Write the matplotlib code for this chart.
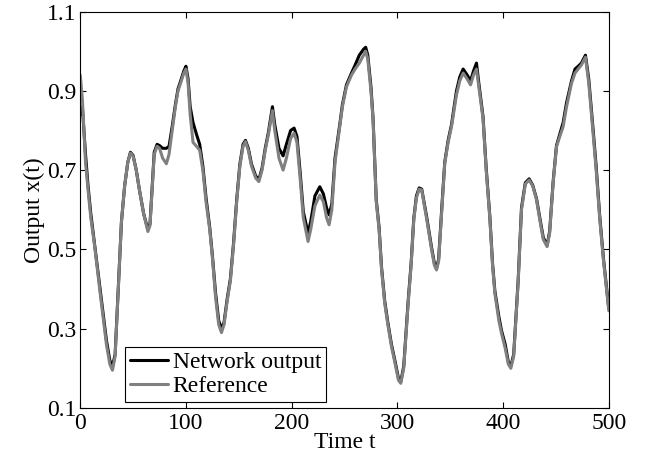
import matplotlib
matplotlib.use('Agg')
import matplotlib.pyplot as plt

# time samples
t = [0, 2, 5, 7.4, 10, 13.7, 18.4, 24.8, 28, 30.5,
     33, 36, 39, 42, 45, 47.5, 50, 53, 56, 60,
     64, 66, 68, 70, 72.7, 75, 78, 81.5, 84, 87,
     90, 92.5, 95, 98, 100, 102, 104, 106.7, 110, 113,
     116, 119, 122.5, 125, 128, 131, 133.6, 136, 139, 142,
     145, 148, 151, 154, 156.3, 159, 162, 166, 169, 172,
     175, 178, 181.8, 184, 188, 191.9, 195, 199, 202.3, 205,
     208, 211, 215.5, 218, 222, 226.6, 230, 233, 235.4, 238,
     241, 245.5, 248, 251.8, 256.6, 260, 264, 268, 270, 272,
     275, 277, 280, 282.7, 285, 288, 291, 294.4, 298, 301,
     303.2, 306, 308, 310.2, 313, 315.5, 318, 320.6, 323, 327.5,
     332.3, 335, 337, 339, 342, 344.8, 348, 351.2, 355.9, 359,
     362.2, 366, 369.2, 372, 374.8, 377, 381, 384, 387.4, 390,
     392.2, 396, 398.5, 402, 405, 407.3, 410, 414.2, 417.4, 421,
     424.6, 428, 431.6, 435, 438, 441.6, 444, 447.3, 450.5, 453,
     456.8, 460, 464.7, 468, 471, 474, 477.9, 481, 485.2, 488,
     491.5, 495, 500]

# reference series (gray)
reference = [0.94, 0.88, 0.72, 0.65, 0.58, 0.507, 0.40, 0.26, 0.21, 0.195,
             0.23, 0.40, 0.57, 0.66, 0.72, 0.743, 0.735, 0.70, 0.65, 0.59,
             0.545, 0.56, 0.65, 0.74, 0.76, 0.755, 0.73, 0.716, 0.74, 0.80,
             0.86, 0.90, 0.92, 0.945, 0.955, 0.92, 0.84, 0.77, 0.76, 0.75,
             0.70, 0.62, 0.55, 0.48, 0.38, 0.31, 0.29, 0.31, 0.37, 0.42,
             0.51, 0.62, 0.71, 0.76, 0.772, 0.75, 0.71, 0.68, 0.671, 0.70,
             0.75, 0.79, 0.85, 0.80, 0.73, 0.70, 0.73, 0.78, 0.793, 0.77,
             0.68, 0.58, 0.52, 0.55, 0.61, 0.637, 0.62, 0.58, 0.562, 0.60,
             0.72, 0.81, 0.86, 0.91, 0.94, 0.955, 0.97, 0.99, 1.00, 0.98,
             0.90, 0.827, 0.62, 0.55, 0.45, 0.364, 0.31, 0.255, 0.21, 0.17,
             0.162, 0.20, 0.28, 0.364, 0.46, 0.574, 0.63, 0.652, 0.65, 0.58,
             0.50, 0.46, 0.448, 0.47, 0.60, 0.717, 0.77, 0.81, 0.89, 0.925,
             0.945, 0.93, 0.915, 0.94, 0.955, 0.91, 0.83, 0.70, 0.58, 0.46,
             0.389, 0.32, 0.288, 0.25, 0.21, 0.20, 0.23, 0.415, 0.60, 0.665,
             0.675, 0.66, 0.625, 0.57, 0.525, 0.507, 0.54, 0.667, 0.759, 0.78,
             0.81, 0.86, 0.919, 0.945, 0.955, 0.965, 0.985, 0.92, 0.79, 0.70,
             0.574, 0.47, 0.345]

# network output series (black)
network = [0.84, 0.86, 0.74, 0.66, 0.59, 0.51, 0.41, 0.27, 0.22, 0.205,
           0.235, 0.40, 0.57, 0.66, 0.72, 0.745, 0.737, 0.70, 0.65, 0.59,
           0.55, 0.565, 0.655, 0.745, 0.765, 0.762, 0.755, 0.755, 0.76, 0.81,
           0.865, 0.905, 0.925, 0.95, 0.962, 0.93, 0.86, 0.82, 0.79, 0.765,
           0.71, 0.63, 0.555, 0.485, 0.39, 0.32, 0.30, 0.315, 0.375, 0.425,
           0.515, 0.625, 0.715, 0.765, 0.775, 0.755, 0.715, 0.685, 0.676, 0.705,
           0.755, 0.795, 0.86, 0.815, 0.755, 0.736, 0.765, 0.80, 0.806, 0.785,
           0.695, 0.595, 0.541, 0.57, 0.635, 0.658, 0.64, 0.605, 0.587, 0.615,
           0.73, 0.815, 0.865, 0.915, 0.945, 0.965, 0.99, 1.005, 1.01, 0.99,
           0.91, 0.83, 0.625, 0.555, 0.455, 0.37, 0.315, 0.26, 0.215, 0.175,
           0.166, 0.205, 0.285, 0.37, 0.465, 0.578, 0.635, 0.655, 0.652, 0.585,
           0.505, 0.465, 0.452, 0.475, 0.605, 0.72, 0.775, 0.815, 0.9, 0.935,
           0.955, 0.94, 0.925, 0.95, 0.97, 0.92, 0.835, 0.705, 0.585, 0.465,
           0.395, 0.33, 0.295, 0.26, 0.215, 0.205, 0.235, 0.42, 0.605, 0.668,
           0.678, 0.662, 0.628, 0.575, 0.53, 0.51, 0.545, 0.67, 0.762, 0.785,
           0.82, 0.87, 0.925, 0.955, 0.962, 0.97, 0.99, 0.93, 0.80, 0.71,
           0.58, 0.475, 0.35]

xticks = [0, 100, 200, 300, 400, 500]
yticks = [0.1, 0.3, 0.5, 0.7, 0.9, 1.1]

plt.rcParams['font.family'] = ['Liberation Serif', 'DejaVu Serif']
plt.rcParams['font.size'] = 17

fig = plt.figure(figsize=(6.47, 4.63), dpi=100)
ax = fig.add_axes([0.124, 0.119, 0.817, 0.856])

ax.plot(t, network, color='black', linewidth=2.2, label='Network output',
        solid_joinstyle='round', solid_capstyle='round')
ax.plot(t, reference, color='#808080', linewidth=2.2, label='Reference',
        solid_joinstyle='round', solid_capstyle='round')

ax.set_xlim(0, 500)
ax.set_ylim(0.1, 1.1)
ax.set_xticks(xticks)
ax.set_yticks(yticks)
ax.set_xticklabels([str(v) for v in xticks])
ax.set_yticklabels(['%.1f' % v for v in yticks])
ax.tick_params(direction='in', top=True, right=True, length=4, width=0.8)
ax.tick_params(axis='x', pad=4)
ax.tick_params(axis='y', pad=3)
ax.set_xlabel('Time t', labelpad=-2)
ax.set_ylabel('Output x(t)', labelpad=1)

leg = ax.legend(loc='lower left', bbox_to_anchor=(0.0855, 0.015), fancybox=False,
                edgecolor='black', framealpha=1, borderpad=0.2, labelspacing=0.1,
                handlelength=1.6, handletextpad=0.2, borderaxespad=0)
leg.get_frame().set_linewidth(0.8)

fig.savefig('out.png', dpi=100)
